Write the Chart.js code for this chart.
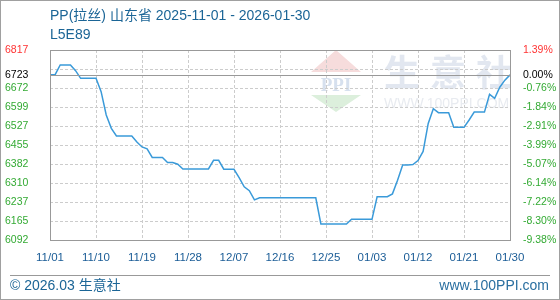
<!DOCTYPE html>
<html>
<head>
<meta charset="utf-8">
<script src="https://cdn.jsdelivr.net/npm/chart.js@4/dist/chart.umd.min.js"></script>
<style>
  body { margin: 0; background: #fff; }
  #wrap { position: relative; width: 560px; height: 300px; font-family: "Liberation Sans", "Noto Sans CJK SC", sans-serif; }
  #chart { position: absolute; left: 0; top: 0; }
  .txt { position: absolute; font-size: 14px; line-height: 14px; color: #1b6596; white-space: nowrap; }
</style>
</head>
<body>
<div id="wrap">
  <canvas id="chart" width="560" height="300"></canvas>
  <div class="txt" style="left:50px; top:8px;">PP(拉丝) 山东省 2025-11-01 - 2026-01-30</div>
  <div class="txt" style="left:50px; top:27px;">L5E89</div>
  <div class="txt" style="left:10px; top:278px;">© 2026.03 生意社</div>
  <div class="txt" style="right:11px; top:278px; color:#2a6fa0;">www.100PPI.com</div>
</div>
<script>
const startDate = "2025-11-01";
const dayCount = 91;

// daily price, 11/01 .. 01/30
const prices = [
    6723, 6723, 6760, 6760, 6760, 6738, 6709, 6709, 6709, 6709,
    6658, 6569, 6518, 6489, 6489, 6489, 6489, 6466, 6447, 6440,
    6407, 6407, 6407, 6388, 6388, 6381, 6363, 6363, 6363, 6363,
    6363, 6363, 6396, 6396, 6362, 6362, 6362, 6330, 6295, 6280,
    6245, 6253, 6253, 6253, 6253, 6253, 6253, 6253, 6253, 6253,
    6253, 6253, 6253, 6153, 6153, 6153, 6153, 6153, 6153, 6171,
    6171, 6171, 6171, 6171, 6257, 6257, 6257, 6268, 6320, 6378,
    6378, 6380, 6395, 6430, 6537, 6593, 6578, 6578, 6578, 6522,
    6522, 6522, 6550, 6580, 6580, 6580, 6648, 6633, 6675, 6702,
    6722
];

const xTicks = ["11/01", "11/10", "11/19", "11/28", "12/07", "12/16", "12/25", "01/03", "01/12", "01/21", "01/30"];

const gridValues = [6092, 6164.5, 6237, 6309.5, 6382, 6454.5, 6527, 6599.5, 6672, 6744.5, 6817];
const leftLabels = ["6092", "6165", "6237", "6310", "6382", "6455", "6527", "6599", "6672", "", "6817"];
const rightLabels = ["-9.38%", "-8.30%", "-7.22%", "-6.14%", "-5.07%", "-3.99%", "-2.91%", "-1.84%", "-0.76%", "", "1.39%"];
const baseValue = 6723;
const baseLeft = "6723";
const baseRight = "0.00%";

let labels = [];
let d0 = new Date(startDate + "T00:00:00Z");
for (let i = 0; i < dayCount; i++) {
    let d = new Date(d0.getTime() + i * 86400000);
    let mm = String(d.getUTCMonth() + 1).padStart(2, "0");
    let dd = String(d.getUTCDate()).padStart(2, "0");
    labels.push(mm + "/" + dd);
}

const GRID = "#cccccc";
const BORDER = "#999999";

function setTicks(scale) {
    scale.ticks = gridValues.concat([baseValue]).sort((a, b) => a - b).map(v => ({ value: v }));
}

function tickColor(ctx) {
    let v = ctx.tick.value;
    if (v === baseValue) return "#000000";
    if (v === gridValues[gridValues.length - 1]) return "#ff3333";
    return "#33aa33";
}

function labelFor(list, baseText) {
    return function (value) {
        if (value === baseValue) return baseText;
        let i = gridValues.indexOf(value);
        return i >= 0 ? list[i] : "";
    };
}

const decor = {
    id: "decor",
    beforeDraw(chart) {
        const c = chart.ctx;
        c.save();
        // watermark logo
        c.fillStyle = "#f6dcdc";
        c.beginPath(); c.moveTo(336, 50); c.lineTo(361, 72); c.lineTo(311, 72); c.closePath(); c.fill();
        c.fillStyle = "#d6e0ee";
        c.font = "bold 19px 'Liberation Serif'";
        c.textAlign = "center"; c.textBaseline = "alphabetic";
        c.fillText("PPI", 336, 91);
        c.fillStyle = "#dcefdc";
        c.beginPath(); c.moveTo(311, 95); c.lineTo(361, 95); c.lineTo(336, 112); c.closePath(); c.fill();
        // watermark text
        c.fillStyle = "#e2e7f0";
        c.font = "bold 36px 'Noto Sans CJK SC'";
        c.textAlign = "left";
        c.fillText("生", 384, 86);
        c.fillText("意", 430, 86);
        c.fillText("社", 476, 86);
        c.fillStyle = "#e8ebf0";
        c.font = "14px 'Liberation Sans'";
        c.fillText("WWW.100PPI.COM", 384, 108);
        c.restore();
    },
    afterDraw(chart) {
        const c = chart.ctx;
        const a = chart.chartArea;
        const y = chart.scales.y;
        c.save();
        c.strokeStyle = BORDER;
        c.lineWidth = 1;
        // base line
        let by = Math.round(y.getPixelForValue(baseValue)) + 0.5;
        c.beginPath(); c.moveTo(a.left, by); c.lineTo(a.right, by); c.stroke();
        // plot border
        c.strokeRect(Math.round(a.left) + 0.5, Math.round(a.top) + 0.5, Math.round(a.right - a.left), Math.round(a.bottom - a.top));
        // footer separator
        c.beginPath(); c.moveTo(10, 275.5); c.lineTo(550, 275.5); c.stroke();
        // outer frame
        c.strokeStyle = "#a0a0a0";
        c.strokeRect(0.5, 0.5, 559, 299);
        c.restore();
    }
};

new Chart(document.getElementById("chart").getContext("2d"), {
    type: "line",
    data: {
        labels: labels,
        datasets: [{
            data: prices,
            borderColor: "#3a9ad9",
            borderWidth: 1.5,
            pointRadius: 0,
            fill: false,
            tension: 0
        }]
    },
    options: {
        responsive: false,
        animation: false,
        layout: { padding: { left: 5, top: 50, right: 0, bottom: 0 } },
        plugins: { legend: { display: false }, tooltip: { enabled: false } },
        scales: {
            x: {
                offset: false,
                grid: { color: GRID, drawTicks: false },
                border: { display: false, dash: [3, 2] },
                afterFit: s => { s.height = 60; },
                ticks: {
                    autoSkip: false,
                    maxRotation: 0,
                    padding: 11,
                    color: "#1a5c96",
                    font: { family: "Liberation Sans", size: 11.5 },
                    callback: function (v, i) {
                        let l = labels[i];
                        return xTicks.includes(l) ? l : null;
                    }
                }
            },
            y: {
                position: "left",
                min: gridValues[0],
                max: gridValues[gridValues.length - 1],
                afterBuildTicks: setTicks,
                afterFit: s => { s.width = 45; },
                grid: { color: ctx => ctx.tick && ctx.tick.value === baseValue ? "rgba(0,0,0,0)" : GRID, drawTicks: false },
                border: { display: false, dash: [3, 2] },
                ticks: {
                    crossAlign: "far",
                    padding: 0,
                    color: tickColor,
                    font: { family: "Liberation Sans", size: 10.5 },
                    callback: labelFor(leftLabels, baseLeft)
                }
            },
            y2: {
                position: "right",
                min: gridValues[0],
                max: gridValues[gridValues.length - 1],
                afterBuildTicks: setTicks,
                afterFit: s => { s.width = 50; },
                grid: { display: false },
                border: { display: false },
                ticks: {
                    crossAlign: "near",
                    padding: 5,
                    color: tickColor,
                    font: { family: "Liberation Sans", size: 10.5 },
                    callback: labelFor(rightLabels, baseRight)
                }
            }
        }
    },
    plugins: [decor]
});
</script>
</body>
</html>
